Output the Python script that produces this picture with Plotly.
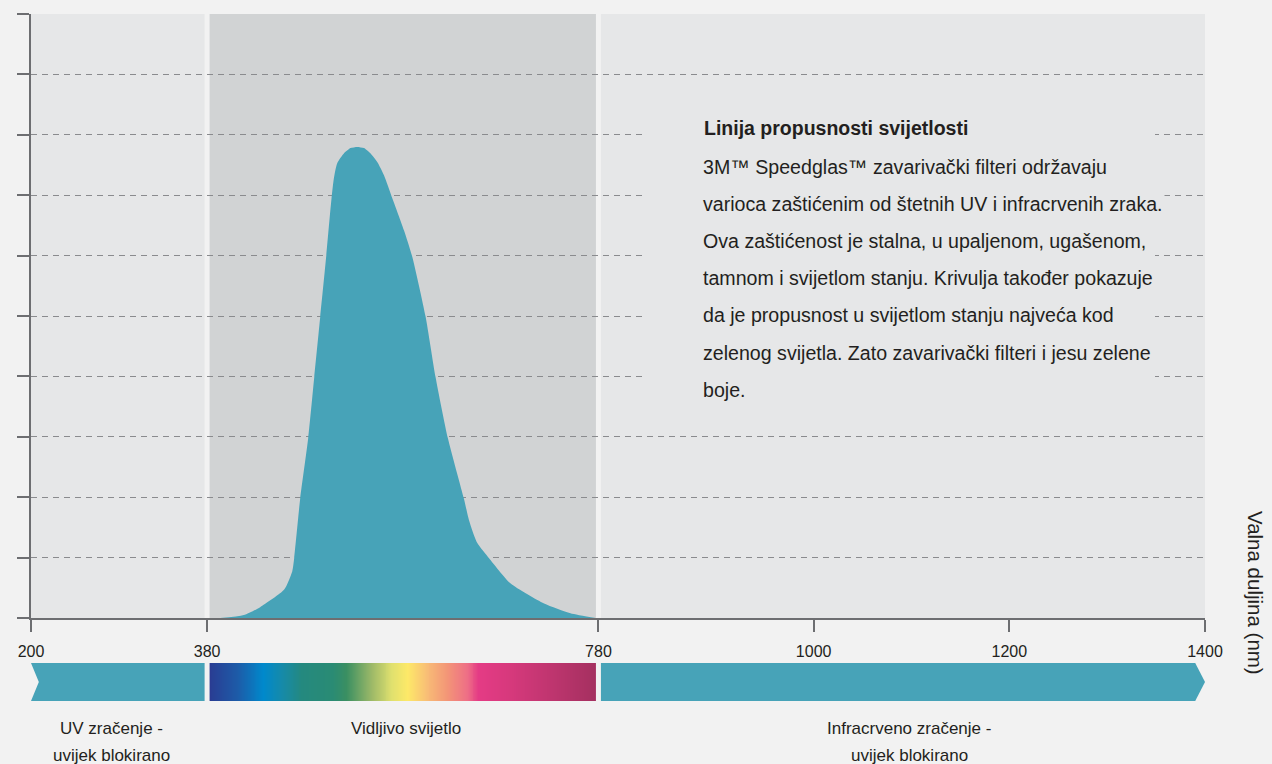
import numpy as np
import plotly.graph_objects as go

# ---------------- data ----------------
# light transmission curve (wavelength nm, relative transmission, 10 = top gridline)
CURVE_NM = [393.3, 417.5, 434.2, 458.8, 467.0, 469.0, 475.1, 483.3, 489.5, 495.6,
            501.7, 507.2, 509.6, 513.0, 519.8, 526.6, 533.5, 540.3, 547.1, 553.9,
            560.8, 569.3, 581.2, 589.7, 603.3, 613.6, 626.2, 642.6, 647.7, 656.2,
            668.2, 690.3, 724.4, 751.4, 777.2]
CURVE_T = [0.0, 0.05, 0.18, 0.47, 0.77, 0.99, 1.97, 2.97, 3.98, 4.98,
           5.98, 6.95, 7.28, 7.53, 7.69, 7.78, 7.80, 7.78, 7.69, 7.55,
           7.33, 6.95, 6.42, 5.98, 4.99, 3.98, 2.97, 1.97, 1.62, 1.24,
           0.99, 0.57, 0.24, 0.08, 0.0]

REGION_EDGES = [200, 380, 780, 1400]          # UV | visible | IR
X_TICKS = [200, 380, 780, 1000, 1200, 1400]
Y_GRID = list(range(0, 11))

SPECTRUM_NM = [380, 411, 438, 457, 477, 508, 523, 549, 569, 585, 605, 626, 646, 658, 687, 723, 780]
SPECTRUM_COLORS = ["#2b3990", "#1d5ba8", "#0089cc", "#168aa8", "#24897f", "#2a8b74", "#3a8f62",
                   "#9fba68", "#dfe06e", "#fde968", "#f8bd76", "#f39577", "#ee6e86", "#e43b85",
                   "#d8397d", "#c43672", "#a3305f"]

TEXT_TITLE = "Linija propusnosti svijetlosti"
TEXT_BODY = [
    "3M™ Speedglas™ zavarivački filteri održavaju",
    "varioca zaštićenim od štetnih UV i infracrvenih zraka.",
    "Ova zaštićenost je stalna, u upaljenom, ugašenom,",
    "tamnom i svijetlom stanju. Krivulja također pokazuje",
    "da je propusnost u svijetlom stanju najveća kod",
    "zelenog svijetla. Zato zavarivački filteri i jesu zelene",
    "boje.",
]
BAND_LABELS = [["UV zračenje -", "uvijek blokirano"], ["Vidljivo svijetlo"],
               ["Infracrveno zračenje -", "uvijek blokirano"]]
AXIS_TITLE = "Valna duljina (nm)"

# ---------------- style ----------------
W, H = 1272, 764
L, R, T, B = 31, 67, 14, 63
PW, PH = W - L - R, H - T - B
BG = "#f2f2f2"
LIGHT = "#e6e7e8"
DARK = "#d1d3d4"
TEAL = "#47a3b8"
AXC = "#6d6e71"
TXT = "#231f20"
FONT = "Liberation Sans, Arial, sans-serif"


def px2x(px):
    return (px - L) / PW


def py2y(py):
    return (H - B - py) / PH


main_bottom = py2y(618)
band_top = py2y(663)

fig = go.Figure()

# transmission curve
fig.add_trace(go.Scatter(
    x=CURVE_NM, y=CURVE_T, mode="lines", fill="tozeroy",
    line=dict(color=TEAL, width=0, shape="spline", smoothing=0.6),
    fillcolor=TEAL, hoverinfo="skip", showlegend=False))

# spectrum band (visible light)
grid = np.arange(REGION_EDGES[1], REGION_EDGES[2] + 1)
span = REGION_EDGES[2] - REGION_EDGES[1]
cscale = [[(n - REGION_EDGES[1]) / span, c] for n, c in zip(SPECTRUM_NM, SPECTRUM_COLORS)]
fig.add_trace(go.Heatmap(
    x=grid, y=[0.25, 0.75], z=[grid, grid], colorscale=cscale,
    zmin=REGION_EDGES[1], zmax=REGION_EDGES[2], showscale=False,
    hoverinfo="skip", xaxis="x", yaxis="y2"))

# UV arrow (notched left end)
uv0, uv1 = REGION_EDGES[0], REGION_EDGES[1]
fig.add_trace(go.Scatter(
    x=[uv0, uv1, uv1, uv0, uv0 + 8, uv0], y=[0, 0, 1, 1, 0.5, 0],
    mode="lines", fill="toself", fillcolor=TEAL, line=dict(width=0, color=TEAL),
    hoverinfo="skip", showlegend=False, xaxis="x", yaxis="y2"))
# IR arrow (pointed right end)
ir0, ir1 = REGION_EDGES[2], REGION_EDGES[3]
fig.add_trace(go.Scatter(
    x=[ir0, ir1 - 10, ir1, ir1 - 10, ir0, ir0], y=[0, 0, 0.5, 1, 1, 0],
    mode="lines", fill="toself", fillcolor=TEAL, line=dict(width=0, color=TEAL),
    hoverinfo="skip", showlegend=False, xaxis="x", yaxis="y2"))

shapes = []
region_fill = [LIGHT, DARK, LIGHT]
for i in range(3):
    shapes.append(dict(type="rect", xref="x", yref="y", x0=REGION_EDGES[i], x1=REGION_EDGES[i + 1],
                       y0=0, y1=10, fillcolor=region_fill[i], line=dict(width=0), layer="below"))
for e in REGION_EDGES[1:3]:
    shapes.append(dict(type="line", xref="x", yref="y", x0=e, x1=e, y0=0, y1=10,
                       line=dict(color=BG, width=5), layer="below"))
    shapes.append(dict(type="line", xref="x", yref="y2", x0=e, x1=e, y0=-0.05, y1=1.05,
                       line=dict(color=BG, width=5), layer="above"))
# text panel background
shapes.append(dict(type="rect", xref="paper", yref="paper", x0=px2x(647), x1=px2x(1155),
                   y0=py2y(415), y1=py2y(95), fillcolor=LIGHT, line=dict(width=0), layer="above"))

ann = []
ann.append(dict(text="<b>" + TEXT_TITLE + "</b>", xref="paper", yref="paper", x=px2x(702), y=py2y(128),
                xanchor="left", yanchor="middle", showarrow=False,
                font=dict(size=19.5, color=TXT, family=FONT)))
for i, line in enumerate(TEXT_BODY):
    ann.append(dict(text=line, xref="paper", yref="paper", x=px2x(701), y=py2y(167 + i * 37.1),
                    xanchor="left", yanchor="middle", showarrow=False, bgcolor=LIGHT,
                    font=dict(size=19.6, color=TXT, family=FONT)))
for lines, cx in zip(BAND_LABELS, [111, 406, 909]):
    for j, lab in enumerate(lines):
        ann.append(dict(text=lab, xref="paper", yref="paper", x=px2x(cx), y=py2y(728 + j * 27),
                        xanchor="center", yanchor="middle", showarrow=False,
                        font=dict(size=17, color=TXT, family=FONT)))
ann.append(dict(text=AXIS_TITLE, xref="paper", yref="paper", x=px2x(1256), y=py2y(593),
                xanchor="center", yanchor="middle", textangle=90, showarrow=False,
                font=dict(size=20.5, color=TXT, family=FONT)))

fig.update_layout(
    width=W, height=H, margin=dict(l=L, r=R, t=T, b=B),
    paper_bgcolor=BG, plot_bgcolor=BG, showlegend=False,
    font=dict(family=FONT, color=TXT),
    xaxis=dict(range=[REGION_EDGES[0], REGION_EDGES[3]], tickmode="array", tickvals=X_TICKS,
               ticktext=[str(v) for v in X_TICKS], ticks="outside", ticklen=12, tickwidth=1.5,
               tickcolor=AXC, showline=True, linecolor=AXC, linewidth=1.5, showgrid=False,
               zeroline=False, tickfont=dict(size=16, color=TXT, family=FONT),
               ticklabelstandoff=6, anchor="y", fixedrange=True),
    yaxis=dict(range=[0, 10], domain=[main_bottom, 1], tickmode="array", tickvals=Y_GRID,
               showticklabels=False, ticks="outside", ticklen=12, tickwidth=1.5, tickcolor=AXC,
               showline=True, linecolor=AXC, linewidth=1.5, showgrid=True, gridcolor="#8a8b8e",
               gridwidth=1, griddash="6px,5px", zeroline=False, fixedrange=True),
    yaxis2=dict(range=[0, 1], domain=[0, band_top], visible=False, fixedrange=True, anchor="x"),
    shapes=shapes, annotations=ann,
)

fig.write_html("out.html", config={"displayModeBar": False},
               post_script="document.body.style.margin='0px';document.body.style.overflow='hidden';")
